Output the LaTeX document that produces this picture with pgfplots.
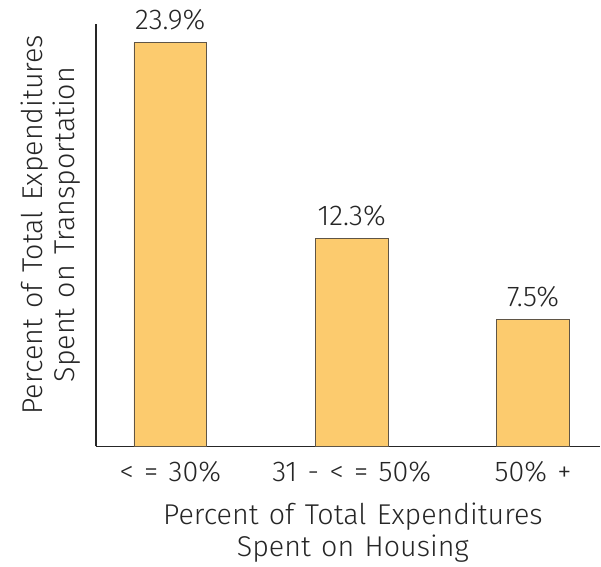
\documentclass[border=0pt]{standalone}
\usepackage{fontspec}
\setmainfont{Fira Sans}[UprightFont=* Light, WordSpace=1.3]
\usepackage{pgfplots}
\pgfplotsset{compat=1.18}
\definecolor{barfill}{RGB}{252,203,110}
\definecolor{bardraw}{RGB}{95,85,70}
\begin{document}
\begin{tikzpicture}[font=\fontsize{21.5}{25}\selectfont]
\begin{axis}[
    scale only axis,
    width=378.75pt,
    height=317.25pt,
    xmin=-0.41, xmax=2.37,
    ymin=0, ymax=25,
    axis lines*=left,
    axis line style={black!85, line width=1.1pt},
    ytick=\empty,
    xtick={0,1,2},
    xticklabels={{< = 30\%},{31 - < = 50\%},{50\% +}},
    major tick length=0pt,
    xticklabel style={anchor=base, yshift=-26.25pt, text=black!85},
    ybar,
    bar width=0.4,
    nodes near coords={\pgfmathprintnumber[fixed,fixed zerofill,precision=1,assume math mode=true]{\pgfplotspointmeta}\%},
    nodes near coords style={anchor=base, inner sep=0pt, yshift=10pt, text=black!85},
]
\addplot[fill=barfill, draw=bardraw, line width=0.6pt] coordinates {(0,23.9) (1,12.3) (2,7.5)};
\end{axis}
\node[rotate=90, anchor=base, text=black!85] at (-39.75pt,166.5pt) {Percent of Total Expenditures};
\node[rotate=90, anchor=base, text=black!85] at (-15.75pt,166.5pt) {Spent on Transportation};
\node[anchor=base, text=black!85] at (193pt,-58.5pt) {Percent of Total Expenditures};
\node[anchor=base, text=black!85] at (193pt,-82.5pt) {Spent on Housing};
\useasboundingbox (-72pt,-87.75pt) rectangle (378.75pt,335.25pt);
\end{tikzpicture}
\end{document}
